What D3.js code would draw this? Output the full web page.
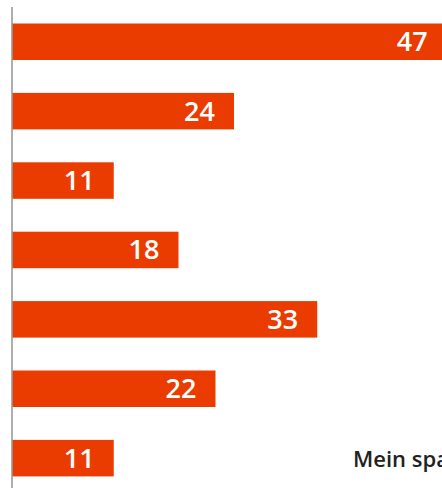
<!DOCTYPE html>
<html>
<head>
<meta charset="utf-8">
<script src="https://cdn.jsdelivr.net/npm/d3@7"></script>
<style>
html,body{margin:0;padding:0;background:#fff;overflow:hidden;}
svg{display:block;}
</style>
</head>
<body>
<svg id="chart" width="442" height="488"></svg>
<script>
const categories = ["c1","c2","c3","c4","c5","c6","c7"];
const values = [47, 24, 11, 18, 33, 22, 11];
const sideLabel = "Mein spannendes Thema";

const svg = d3.select("#chart");
const x = d3.scaleLinear().domain([0, 50]).range([12, 474.5]);
const y = d3.scaleBand().domain(categories).range([23.5, 476.4]).paddingInner(0.474).paddingOuter(0);

svg.append("g").selectAll("rect").data(values).join("rect")
  .attr("x", x(0))
  .attr("y", (d,i) => y(categories[i]))
  .attr("width", d => x(d) - x(0))
  .attr("height", y.bandwidth())
  .attr("fill", "#ea3c00");

svg.append("line")
  .attr("x1", x(0)).attr("x2", x(0))
  .attr("y1", 7).attr("y2", 488)
  .attr("stroke", "#9a9a9a").attr("stroke-width", 1.6);

svg.append("g").selectAll("text").data(values).join("text")
  .attr("x", d => x(d) - 19)
  .attr("y", (d,i) => y(categories[i]) + y.bandwidth()/2 + 9.5)
  .attr("text-anchor", "end")
  .attr("fill", "#fff")
  .attr("font-family", "'Open Sans', sans-serif")
  .attr("font-weight", 600)
  .attr("font-size", 27)
  .text(d => d);

svg.append("text")
  .attr("x", 353)
  .attr("y", 467)
  .attr("fill", "#222")
  .attr("font-family", "'Open Sans', sans-serif")
  .attr("font-weight", 600)
  .attr("font-size", 22)
  .text(sideLabel);
</script>
</body>
</html>
